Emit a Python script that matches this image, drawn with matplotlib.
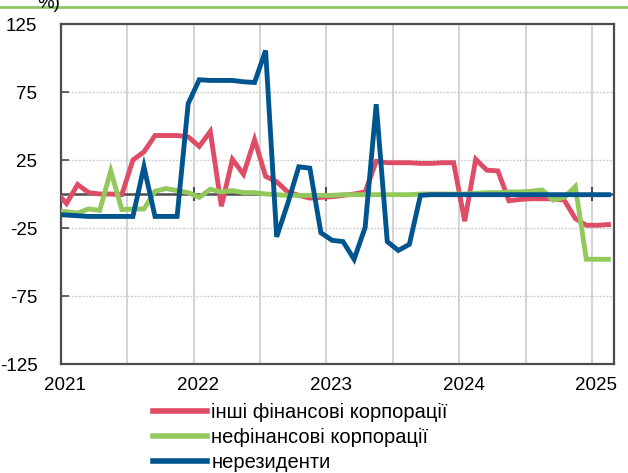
import numpy as np
import matplotlib
matplotlib.use("Agg")
import matplotlib.pyplot as plt

plt.rcParams['font.family'] = ['Liberation Sans', 'DejaVu Sans']

# monthly data, Dec 2020 .. Feb 2025 (first point lies just left of the axis)
months = np.arange(-1, 50) + 0.5

other_fin = [2, -7, 7, 1, 0, 0, -0.5, 25, 31, 43, 43, 43, 42, 35, 46, -9, 25.5, 14.5, 40,
             13, 9, 1.5, -1, -3, -2.5, -2, -1, 0, 1.5, 24, 23, 23, 23, 22.5, 22.5, 23, 23,
             -20, 25.5, 17.5, 17, -5, -4, -3.5, -3.5, -3.5, -4.5, -18, -23, -23, -22.5]
nonfin = [-12.5, -13, -14, -11, -12, 17, -11.5, -11, -11, 2, 4, 2.5, 1, -2.5, 3.5, 1.5,
          2.5, 1, 1, 0, -0.5, -1, -1, -1, -1, -1, -0.5, -0.5, -0.5, -0.5, -0.5, -0.5,
          -0.5, 0, 0, 0, 0, 0, 0.5, 1, 1, 1.5, 1.5, 2, 3, -4.5, -2.5, 5.5, -48, -48, -48]
nonres = [-15, -15.5, -16, -16.5, -16.5, -16.5, -16.5, -16.5, 20, -16.5, -16.5, -16.5,
          66.5, 84, 83.5, 83.5, 83.5, 82.5, 82, 105.5, -31.5, -7, 20, 19, -28.5, -34, -35,
          -48, -24.5, 66, -35, -41.5, -37, -1, -0.5, -0.5, -0.5, -0.5, -0.5, -0.5, -0.5,
          -0.5, -0.5, -0.5, -0.5, -0.5, -0.5, -0.5, -0.5, -0.5, -0.5]

labels = ['інші фінансові корпорації', 'нефінансові корпорації', 'нерезиденти']
colors = ['#de4c66', '#92c85c', '#00558e']

year_labels = ['2021', '2022', '2023', '2024', '2025']
year_pos = [0, 12, 24, 36, 48]
yticks = [125, 75, 25, -25, -75, -125]

fig = plt.figure(figsize=(6.28, 4.73), dpi=100)
ax = fig.add_axes([61/628, 1-364/473, 553/628, 340/473])

ax.set_xlim(0, 50)
ax.set_ylim(-125, 125)

# grid
for xv in range(6, 50, 6):
    ax.axvline(xv, color='#c9cccf', lw=1.2, zorder=0)
for yv in [75, 25, -25, -75]:
    ax.axhline(yv, color='#cfcfcf', lw=1.0, ls=(0, (1.5, 1.0)), zorder=0)

ax.axhline(0, color='#4d4d4d', lw=1.8, zorder=1)

for series, lab, col in zip([other_fin, nonfin, nonres], labels, colors):
    ax.plot(months, series, color=col, lw=3.5, label=lab, zorder=3,
            solid_joinstyle='miter', clip_on=True)

# ticks
ax.set_yticks(yticks)
ax.set_yticklabels([str(v) for v in yticks])
ax.tick_params(axis='y', direction='in', length=6, width=1.2, color='#4d4d4d',
               labelsize=13.5, pad=17)
ax.set_xticks([p + 0.4 for p in year_pos])
ax.set_xticklabels(year_labels)
ax.tick_params(axis='x', length=0, labelsize=13.5, pad=9)

# year tick marks on the zero line
sec = ax.secondary_xaxis(0.5)
sec.set_xticks(year_pos[1:])
sec.set_xticklabels([])
sec.tick_params(direction='inout', length=10, width=1.5, color='#4d4d4d')
sec.spines['bottom'].set_visible(False)
sec.spines['top'].set_visible(False)

for sp in ax.spines.values():
    sp.set_color('#4d4d4d')
    sp.set_linewidth(1.6)

leg = fig.legend(loc='upper left', bbox_to_anchor=(153/628, 1-403/473), frameon=False,
                 fontsize=14.5, handlelength=2.7, handletextpad=0.2, labelspacing=0.3,
                 borderpad=0, borderaxespad=0)
for h in leg.legend_handles:
    h.set_linewidth(4)

# top decoration
fig.add_artist(plt.Line2D([0, 1], [1-7/473, 1-7/473], transform=fig.transFigure,
                          color='#8cc665', lw=2))
fig.text(37/628, 1-8/473, '%)', fontsize=13.5, va='baseline', ha='left')

fig.savefig('out.png', dpi=100)
